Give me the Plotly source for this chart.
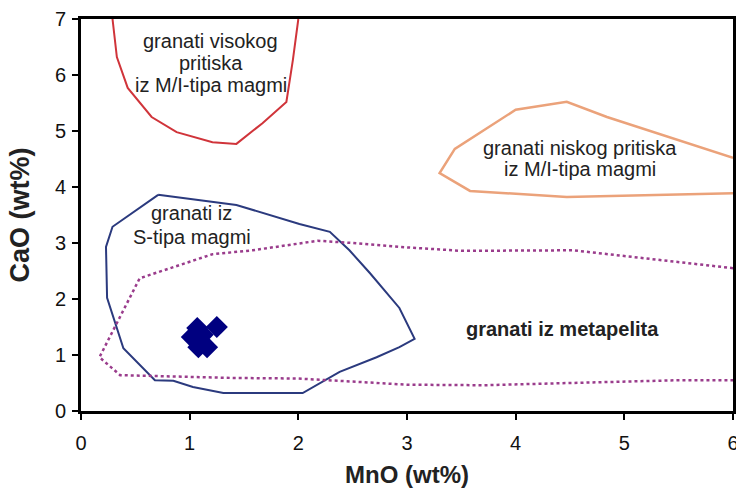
import plotly.graph_objects as go

# High-pressure garnets from M/I-type magmas (red, open curve)
hp_x = [0.29, 0.33, 0.43, 0.65, 0.88, 1.21, 1.43, 1.67, 1.89, 1.95, 2.00]
hp_y = [7.00, 6.32, 5.77, 5.25, 4.98, 4.80, 4.77, 5.14, 5.52, 6.27, 7.00]

# Low-pressure garnets from M/I-type magmas (orange)
lp_x = [6.00, 4.84, 4.47, 4.00, 3.44, 3.30, 3.58, 4.47, 6.00]
lp_y = [4.52, 5.25, 5.52, 5.38, 4.68, 4.25, 3.93, 3.82, 3.89]

# S-type magma garnets (navy polygon)
s_x = [0.71, 1.43, 2.01, 2.29, 2.47, 2.66, 2.93, 3.07, 2.93, 2.72, 2.38, 2.04,
       1.31, 1.03, 0.85, 0.68, 0.39, 0.24, 0.23, 0.29, 0.71]
s_y = [3.86, 3.68, 3.34, 3.20, 2.87, 2.46, 1.84, 1.29, 1.14, 0.96, 0.70, 0.32,
       0.32, 0.43, 0.54, 0.55, 1.12, 2.02, 2.93, 3.29, 3.86]

# Metapelite garnets (dotted purple)
mp_x = [6.00, 5.08, 4.53, 3.50, 2.93, 2.50, 2.18, 1.58, 1.21, 0.54, 0.17, 0.36,
        1.40, 2.00, 2.50, 3.00, 3.70, 4.47, 5.50, 6.00]
mp_y = [2.55, 2.75, 2.87, 2.86, 2.93, 3.00, 3.04, 2.87, 2.80, 2.37, 0.96, 0.64,
        0.59, 0.58, 0.52, 0.47, 0.46, 0.50, 0.55, 0.55]

# Sample analyses
smp_x = [1.07, 1.25, 1.02, 1.12, 1.08, 1.16]
smp_y = [1.48, 1.50, 1.32, 1.36, 1.14, 1.14]

x_ticks = [0, 1, 2, 3, 4, 5, 6]
y_ticks = [0, 1, 2, 3, 4, 5, 6, 7]

# Field labels: (x, y, text, bold)
labels = [
    (1.196, 6.61, "granati visokog", False),
    (1.196, 6.21, "pritiska", False),
    (1.196, 5.82, "iz M/I-tipa magmi", False),
    (4.59, 4.70, "granati niskog pritiska", False),
    (4.59, 4.32, "iz M/I-tipa magmi", False),
    (1.02, 3.54, "granati iz", False),
    (1.02, 3.11, "S-tipa magmi", False),
    (4.43, 1.46, "granati iz metapelita", True),
]

FONT = "Liberation Sans, Arial, sans-serif"

fig = go.Figure()
fig.add_trace(go.Scatter(x=hp_x, y=hp_y, mode="lines",
                         line=dict(color="#d0343a", width=2), hoverinfo="skip"))
fig.add_trace(go.Scatter(x=lp_x, y=lp_y, mode="lines",
                         line=dict(color="#eba27a", width=2.5), hoverinfo="skip"))
fig.add_trace(go.Scatter(x=s_x, y=s_y, mode="lines",
                         line=dict(color="#2b3a7e", width=2), hoverinfo="skip"))
fig.add_trace(go.Scatter(x=mp_x, y=mp_y, mode="lines",
                         line=dict(color="#9a3c8c", width=2.5, dash="dot"), hoverinfo="skip"))
fig.add_trace(go.Scatter(x=smp_x, y=smp_y, mode="markers",
                         marker=dict(symbol="diamond", size=17, color="#000080",
                                     line=dict(width=0))))

for lx, ly, txt, bold in labels:
    fig.add_annotation(x=lx, y=ly, text=f"<b>{txt}</b>" if bold else txt,
                       showarrow=False, align="center",
                       font=dict(family=FONT, size=20, color="#222222"))

axis_common = dict(showline=True, linecolor="black", linewidth=3, mirror=True,
                   ticks="outside", ticklen=6, tickwidth=2, tickcolor="black",
                   showgrid=False, zeroline=False, automargin=False,
                   tickfont=dict(family=FONT, size=20, color="#111111"))
fig.update_xaxes(range=[0, 6], tickvals=x_ticks, **axis_common, ticklabelstandoff=6,
                 ticklabeloverflow="allow",
                 title=dict(text="<b>MnO (wt%)</b>", standoff=17,
                            font=dict(family=FONT, size=24, color="#222222")))
fig.update_yaxes(range=[0, 7], tickvals=y_ticks, **axis_common, ticklabelstandoff=2,
                 ticklabeloverflow="allow",
                 title=dict(text="<b>CaO (wt%)</b>", standoff=18,
                            font=dict(family=FONT, size=27, color="#222222")))
fig.update_layout(width=736, height=488, autosize=False, showlegend=False,
                  hovermode=False,
                  paper_bgcolor="white", plot_bgcolor="white",
                  margin=dict(l=81, r=3, t=19, b=77))

post = ("document.body.style.margin='0px';"
        "document.body.style.overflow='hidden';"
        "Plotly.relayout('{plot_id}', {width: 736, height: 488});")
fig.write_html("out.html", default_width="736px", default_height="488px",
               config={"displayModeBar": False}, post_script=post)
